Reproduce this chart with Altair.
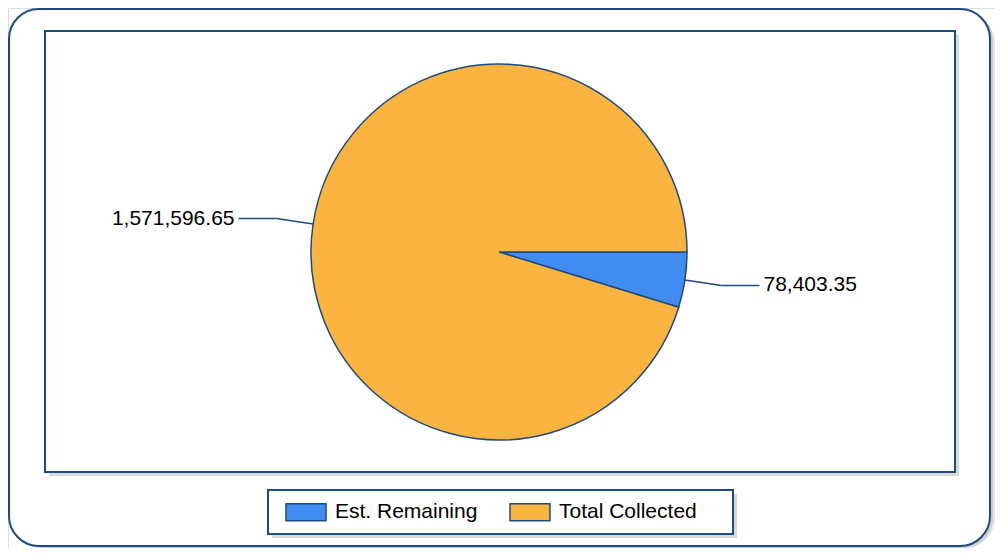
import altair as alt
import pandas as pd

categories = ["Est. Remaining", "Total Collected"]
values = [78403.35, 1571596.65]
colors = ["#418CF0", "#FCB441"]

df = pd.DataFrame({"cat": categories, "value": values, "idx": list(range(len(categories)))})

W, H = 987, 540
CX, CY, R = 491, 244, 188
EXT, HOR = 37, 38
NAVY = "#1f4a7e"
FONT = "Liberation Sans"
FS = 21

one = alt.Data(values=[{"a": 1}])

def box(x, x2, y, y2, **kw):
    return alt.Chart(one).mark_rect(**kw).encode(
        x=alt.value(x), x2=alt.value(x2), y=alt.value(y), y2=alt.value(y2))

outer_sh = box(6, 987, 5, 540, fill="#000", opacity=0.10, cornerRadius=30)
outer_sh2 = box(3, 985, 3, 540, fill="#000", opacity=0.10, cornerRadius=30)
outer = box(1, 982, 1, 538, fill="white", stroke=NAVY, strokeWidth=2, cornerRadius=30)

inner_sh = box(41, 951, 27, 468, fill="#000", opacity=0.15)
inner = box(37, 947, 23, 464, fill="white", stroke=NAVY, strokeWidth=2)

leg_sh = box(264, 729, 486, 530, fill="#000", opacity=0.15)
leg = box(260, 725, 482, 526, fill="white", stroke=NAVY, strokeWidth=2)

pie = alt.Chart(df).mark_arc(radius=R, stroke=NAVY, strokeWidth=1.5).encode(
    theta=alt.Theta("value:Q", stack=True,
                    scale=alt.Scale(range=[3.14159265 / 2, 3.14159265 / 2 + 2 * 3.14159265])),
    order=alt.Order("idx:Q"),
    color=alt.Color("cat:N",
                    scale=alt.Scale(domain=categories, range=colors),
                    legend=alt.Legend(
                        orient="none", legendX=277, legendY=483, direction="horizontal",
                        title=None, padding=0,
                        symbolType="M-1,-0.425H1V0.425H-1Z", symbolSize=1600,
                        symbolStrokeColor=NAVY, symbolStrokeWidth=1.5, symbolOpacity=1,
                        labelFont=FONT, labelFontSize=FS, labelColor="black",
                        labelOffset=8, columnPadding=29)),
    x=alt.value(CX), y=alt.value(CY),
)

base = alt.Chart(df).transform_joinaggregate(
    total="sum(value)"
).transform_window(
    cum="sum(value)", sort=[alt.SortField("idx")], frame=[None, 0]
).transform_calculate(
    mid="PI/2 + 2*PI*(datum.cum - datum.value/2)/datum.total"
).transform_calculate(
    ex=f"{CX} + {R}*sin(datum.mid)",
    ey=f"{CY} - {R}*cos(datum.mid)",
    bx=f"{CX} + {R + EXT}*sin(datum.mid)",
    by=f"{CY} - {R + EXT}*cos(datum.mid)",
    side="sin(datum.mid) >= 0 ? 1 : -1",
).transform_calculate(
    hx=f"datum.bx + {HOR}*datum.side",
    tx=f"datum.bx + {HOR + 4}*datum.side",
    label="format(datum.value, ',.2f')",
)

lead1 = base.mark_rule(color=NAVY, strokeWidth=1.5).encode(
    x=alt.X("ex:Q", scale=None), y=alt.Y("ey:Q", scale=None),
    x2="bx:Q", y2="by:Q")
lead2 = base.mark_rule(color=NAVY, strokeWidth=1.5).encode(
    x=alt.X("bx:Q", scale=None), y=alt.Y("by:Q", scale=None),
    x2="hx:Q", y2="by:Q")

txt_r = base.transform_filter("datum.side > 0").mark_text(
    align="left", baseline="middle", font=FONT, fontSize=FS, color="black").encode(
    x=alt.X("tx:Q", scale=None), y=alt.Y("by:Q", scale=None), text="label:N")
txt_l = base.transform_filter("datum.side < 0").mark_text(
    align="right", baseline="middle", font=FONT, fontSize=FS, color="black").encode(
    x=alt.X("tx:Q", scale=None), y=alt.Y("by:Q", scale=None), text="label:N")

chart = alt.layer(
    outer_sh, outer_sh2, outer, inner_sh, inner, leg_sh, leg,
    pie, lead1, lead2, txt_r, txt_l
).properties(
    width=W, height=H, autosize=alt.AutoSizeParams(type="none"), padding=0
).configure_view(stroke=None).configure(background="white")

chart.save("out.html", embed_options={"renderer": "svg", "actions": False})
